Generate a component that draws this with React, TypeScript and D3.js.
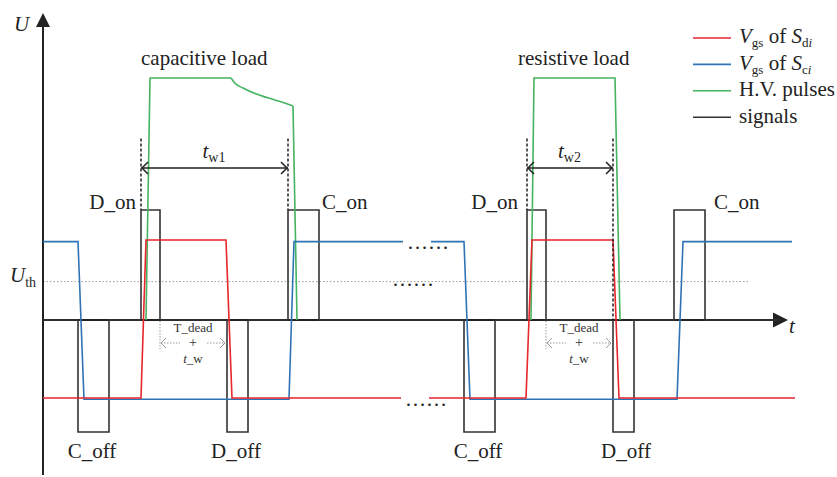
import React from 'react';
import * as d3 from 'd3';

type P = [number, number];

// ---------- data (time units, voltage units) ----------
const vgsDi: P[] = [[0, -0.975], [98, -0.975], [103, 1.0], [183, 1.0], [189, -0.975], [358, -0.975], [NaN, NaN], [386, -0.975], [483, -0.975], [489, 1.0], [570, 1.0], [576, -0.975], [752, -0.975]];
const vgsCi: P[] = [[0, 0.98], [35, 0.98], [41, -0.99], [246, -0.99], [251, 0.98], [360, 0.98], [NaN, NaN], [388, 0.98], [421, 0.98], [427, -0.99], [634, -0.99], [640, 0.98], [749, 0.98]];
const hvCapRise: P[] = [[103, 0], [107, 3.025], [188, 3.025]];
const hvCapDecay: P[] = [[188, 3.025], [192, 2.96], [200, 2.9], [212, 2.83], [224, 2.78], [237, 2.73], [250, 2.675]];
const hvCapFall: P[] = [[250, 2.675], [254, 0]];
const hvRes: P[] = [[488, 0], [491, 3.025], [572, 3.025], [577, 0]];

const pulseStarts = [35, 98, 184, 245, 421, 484, 570, 631];
const pulseEnds = [66, 117, 205, 276, 452, 503, 591, 662];
const pulseLevels = [-1.4, 1.375, -1.4, 1.375, -1.4, 1.375, -1.4, 1.375];
const pulseLabels = ['C_off', 'D_on', 'D_off', 'C_on', 'C_off', 'D_on', 'D_off', 'C_on'];
const labelT = [49, 93, 193, 279, 435, 475, 583, 671];
const labelAnchor = ['middle', 'end', 'middle', 'start', 'middle', 'end', 'middle', 'start'];
const signalEnd = 737;

const U_TH = 0.48;
const uthEnd = 706;
const widthStart = [98, 484];
const widthEnd = [245, 570];
const widthSub = ['w1', 'w2'];
const widthLevel = 1.9;
const dashTop = 2.27;
const dashBottomStart = [1.375, 1.375];
const dashBottomEnd = [1.375, 0];
const deadStart = [117, 503];
const deadEnd = [183, 569];
const loadLabels = ['capacitive load', 'resistive load'];
const loadT = [98, 475];
const ellipsisT = [364, 349, 362];
const ellipsisV = [0.94, 0.48, -1.03];

const legendColors = ['#e8262b', '#2e74b5', '#45b35f', '#333333'];
const RED = legendColors[0], BLUE = legendColors[1], GREEN = legendColors[2], BLACK = legendColors[3];

// ---------- layout ----------
const W = 837, H = 477;
const x = d3.scaleLinear().domain([0, 747]).range([43, 790]);
const y = d3.scaleLinear().domain([0, 1]).range([320, 240]);
const FONT = "Liberation Serif, Times New Roman, serif";

const line = d3.line<P>().defined(d => !isNaN(d[0])).x(d => x(d[0])).y(d => y(d[1]));
const curve = d3.line<P>().x(d => x(d[0])).y(d => y(d[1])).curve(d3.curveMonotoneX);

function signalPoints(): P[] {
  const pts: P[] = [[0, 0]];
  pulseStarts.forEach((s, i) => {
    pts.push([s, 0], [s, pulseLevels[i]], [pulseEnds[i], pulseLevels[i]], [pulseEnds[i], 0]);
  });
  pts.push([signalEnd, 0]);
  return pts;
}

export default function App() {
  const x0 = x(0), yZero = y(0);
  const yTop = 13, yBottom = 475, xRight = 788;
  const sw = 1.6;
  return (
    <svg width={W} height={H} style={{ position: 'absolute', left: 0, top: 0, background: '#fff', fontFamily: FONT }}>
      {/* U_th dotted */}
      <line x1={x0} x2={x(uthEnd)} y1={y(U_TH)} y2={y(U_TH)} stroke="#999" strokeWidth={1} strokeDasharray="1.5,2" />
      {/* axes */}
      <line x1={x0} x2={x0} y1={yBottom} y2={yTop + 10} stroke="#222" strokeWidth={2} />
      <path d={`M${x0 - 7},${yTop + 14} L${x0},${yTop} L${x0 + 7},${yTop + 14} Z`} fill="#222" />
      <line x1={x0} x2={xRight - 10} y1={yZero} y2={yZero} stroke="#222" strokeWidth={2} />
      <path d={`M${xRight - 15},${yZero - 7.5} L${xRight},${yZero} L${xRight - 15},${yZero + 7.5} Z`} fill="#222" />
      <text x={14} y={31} fontSize={21} fontStyle="italic" fill="#222">U</text>
      <text x={789} y={333} fontSize={21} fontStyle="italic" fill="#222">t</text>
      <text x={10} y={282} fontSize={21} fill="#222"><tspan fontStyle="italic">U</tspan><tspan fontSize={14} dy={5}>th</tspan></text>

      {/* signals */}
      <path d={line(signalPoints()) || ''} fill="none" stroke={BLACK} strokeWidth={sw} />
      {/* HV pulses */}
      <path d={line(hvCapRise) || ''} fill="none" stroke={GREEN} strokeWidth={sw} strokeLinejoin="round" />
      <path d={curve(hvCapDecay) || ''} fill="none" stroke={GREEN} strokeWidth={sw} />
      <path d={line(hvCapFall) || ''} fill="none" stroke={GREEN} strokeWidth={sw} />
      <path d={line(hvRes) || ''} fill="none" stroke={GREEN} strokeWidth={sw} />
      {/* Vgs */}
      <path d={line(vgsCi) || ''} fill="none" stroke={BLUE} strokeWidth={sw} />
      <path d={line(vgsDi) || ''} fill="none" stroke={RED} strokeWidth={sw} />

      {/* pulse labels */}
      {pulseLabels.map((lab, i) => (
        <text key={i} x={x(labelT[i])} y={pulseLevels[i] > 0 ? 209 : 458} fontSize={21} fill="#222" textAnchor={labelAnchor[i] as any}>{lab}</text>
      ))}

      {/* width markers */}
      {widthStart.map((s, i) => {
        const e = widthEnd[i];
        const yy = y(widthLevel);
        const xs = x(s), xe = x(e);
        return (
          <g key={i}>
            <line x1={xs} x2={xs} y1={y(dashTop)} y2={y(dashBottomStart[i])} stroke="#222" strokeWidth={1.5} strokeDasharray="3,2" />
            <line x1={xe} x2={xe} y1={y(dashTop)} y2={y(dashBottomEnd[i])} stroke="#222" strokeWidth={1.5} strokeDasharray="3,2" />
            <line x1={xs} x2={xe} y1={yy} y2={yy} stroke="#222" strokeWidth={1.6} />
            <path d={`M${xs + 7},${yy - 6} L${xs + 1},${yy} L${xs + 7},${yy + 6}`} fill="none" stroke="#222" strokeWidth={1.5} />
            <path d={`M${xe - 7},${yy - 6} L${xe - 1},${yy} L${xe - 7},${yy + 6}`} fill="none" stroke="#222" strokeWidth={1.5} />
            <text x={(xs + xe) / 2 - 12} y={yy - 10} fontSize={21} fill="#222"><tspan fontStyle="italic">t</tspan><tspan fontSize={14} dy={4}>{widthSub[i]}</tspan></text>
          </g>
        );
      })}

      {/* dead-time markers */}
      {deadStart.map((s, i) => {
        const xs = x(s), xe = x(deadEnd[i]);
        const cx = (xs + xe) / 2;
        const yy = 343;
        return (
          <g key={i}>
            <line x1={xs} x2={xs} y1={yZero + 1} y2={349} stroke="#999" strokeWidth={1} strokeDasharray="1.5,1.5" />
            <line x1={xs + 1} x2={cx - 13} y1={yy} y2={yy} stroke="#999" strokeWidth={1} strokeDasharray="1.5,1.5" />
            <line x1={cx + 14} x2={xe - 1} y1={yy} y2={yy} stroke="#999" strokeWidth={1} strokeDasharray="1.5,1.5" />
            <path d={`M${xs + 6},${yy - 5} L${xs + 1},${yy} L${xs + 6},${yy + 5}`} fill="none" stroke="#999" strokeWidth={1} />
            <path d={`M${xe - 6},${yy - 5} L${xe - 1},${yy} L${xe - 6},${yy + 5}`} fill="none" stroke="#999" strokeWidth={1} />
            <text x={cx} y={331.5} fontSize={13} textAnchor="middle" fill="#333">T_dead</text>
            <text x={cx} y={347.2} fontSize={14} textAnchor="middle" fill="#333">+</text>
            <text x={cx} y={362.5} fontSize={13} textAnchor="middle" fill="#333"><tspan fontStyle="italic">t</tspan>_w</text>
          </g>
        );
      })}

      {/* load labels */}
      {loadLabels.map((l, i) => (
        <text key={i} x={x(loadT[i])} y={65} fontSize={21} fill="#222">{l}</text>
      ))}

      {/* ellipses */}
      {ellipsisT.map((t, i) => (
        <text key={i} x={x(t)} y={y(ellipsisV[i]) + 4} fontSize={21} fill="#222">……</text>
      ))}

      {/* legend */}
      {legendColors.map((c, i) => (
        <line key={i} x1={693} x2={731} y1={38 + i * 26.4} y2={38 + i * 26.4} stroke={c} strokeWidth={1.6} />
      ))}
      <text x={739} y={43} fontSize={21} fill="#222">
        <tspan fontStyle="italic">V</tspan><tspan fontSize={13} dy={4}>gs</tspan><tspan dy={-4}> of </tspan><tspan fontStyle="italic">S</tspan><tspan fontSize={13} dy={4}>d</tspan><tspan fontSize={13} fontStyle="italic">i</tspan>
      </text>
      <text x={739} y={69.5} fontSize={21} fill="#222">
        <tspan fontStyle="italic">V</tspan><tspan fontSize={13} dy={4}>gs</tspan><tspan dy={-4}> of </tspan><tspan fontStyle="italic">S</tspan><tspan fontSize={13} dy={4}>c</tspan><tspan fontSize={13} fontStyle="italic">i</tspan>
      </text>
      <text x={739} y={96} fontSize={21} fill="#222">H.V. pulses</text>
      <text x={739} y={122.5} fontSize={21} fill="#222">signals</text>
    </svg>
  );
}
